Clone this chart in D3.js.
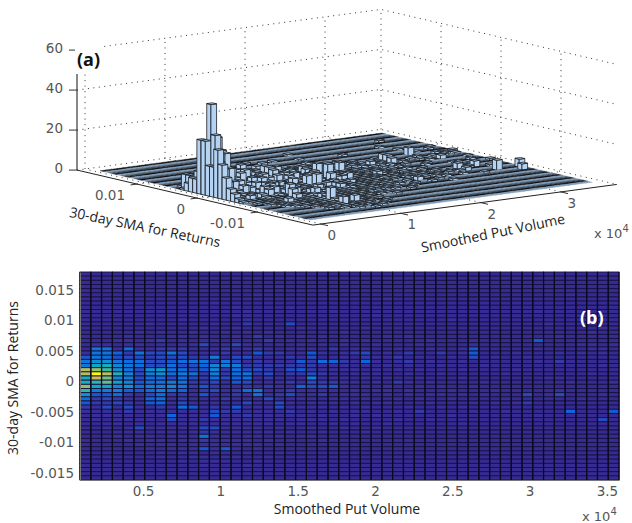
<!DOCTYPE html>
<html>
<head>
<meta charset="utf-8">
<script src="https://cdn.jsdelivr.net/npm/d3@7"></script>
<style>
    html, body { margin: 0; padding: 0; background: #fff; }
    svg { display: block; }
    .tick-label { font-family: "DejaVu Sans", sans-serif; font-size: 13.5px; fill: #555; }
    .title-label { font-family: "Open Sans", sans-serif; font-size: 14px; fill: #222; }
    .panel-label { font-family: "Open Sans", sans-serif; font-size: 18px; font-weight: 700; }
</style>
</head>
<body>
<svg id="chart" width="632" height="523"></svg>
<script>
// Counts per cell. Rows run top to bottom in panel (b), columns left to right
const counts = [
    [0,0,0,0,0,0,0,0,0,0, 0,0,0,0,0,0,0,0,0,0, 0,0,0,0,0,0,0,0,0,0, 0,0,0,0,0,0,0,0,0,0, 0,0,0,0,0,0,0,0,0,0],
    [0,0,0,0,0,0,0,0,0,0, 0,0,0,0,0,0,0,0,0,0, 0,0,0,0,0,0,0,0,0,0, 0,0,0,0,0,0,0,0,0,0, 0,0,0,0,0,0,0,0,0,0],
    [0,0,0,0,0,0,0,0,0,0, 0,0,0,0,0,0,0,0,0,0, 0,0,0,0,0,0,0,0,0,0, 0,0,0,0,0,0,0,0,0,0, 0,0,0,0,0,0,0,0,0,0],
    [0,0,0,0,0,0,0,0,0,0, 0,0,0,0,0,0,0,0,1,0, 0,0,0,0,0,0,0,0,0,0, 0,0,0,0,0,0,0,0,0,0, 0,0,0,0,0,0,0,0,0,0],
    [0,0,0,0,0,0,0,0,0,0, 0,0,0,0,0,0,0,0,0,0, 0,0,0,0,0,0,0,0,0,0, 0,0,0,0,0,0,0,0,0,0, 0,0,0,0,0,0,0,0,0,0],
    [0,0,0,0,0,0,0,0,0,0, 0,0,0,0,0,0,1,0,0,0, 0,0,0,0,0,0,0,0,0,0, 0,0,0,0,0,0,0,0,0,0, 0,0,0,0,0,1,0,0,0,0],
    [0,0,0,0,0,0,0,0,0,0, 0,0,0,0,0,0,0,0,0,0, 0,0,0,0,0,0,0,0,1,0, 0,0,0,0,0,0,0,0,0,0, 0,0,0,0,0,0,0,0,0,0],
    [0,0,0,0,0,0,0,0,0,0, 0,0,1,0,0,0,0,0,0,0, 0,0,0,0,0,0,0,0,0,0, 0,0,0,0,0,0,0,0,0,0, 0,0,0,0,0,0,0,0,0,0],
    [0,0,0,0,0,0,0,0,0,0, 0,0,0,0,1,0,0,0,0,1, 0,0,0,0,0,0,0,0,0,0, 0,0,0,0,0,0,0,0,0,0, 0,0,0,0,0,0,0,0,0,0],
    [0,0,0,0,0,0,0,0,0,0, 0,0,0,0,0,1,0,0,0,0, 0,0,0,1,0,0,0,0,0,0, 0,0,0,0,0,0,0,0,0,0, 0,0,1,0,0,0,0,0,0,0],
    [0,0,0,0,0,0,0,0,0,0, 0,0,0,0,1,1,0,0,0,0, 0,0,0,0,0,0,0,1,0,0, 0,0,0,0,0,0,0,0,0,0, 0,0,0,0,0,0,0,0,0,0],
    [0,0,0,0,0,0,0,0,0,1, 0,0,0,0,0,1,0,0,0,0, 0,0,0,0,0,0,0,0,0,0, 0,0,0,0,1,0,0,0,0,0, 0,0,0,0,0,0,0,0,0,0],
    [0,0,0,0,0,0,1,0,0,0, 0,0,1,0,0,2,0,0,0,3, 0,0,0,0,0,0,0,0,0,0, 0,0,0,0,0,0,0,0,0,0, 0,0,0,1,0,0,0,0,0,0],
    [0,0,0,0,0,0,0,0,0,0, 0,1,0,0,1,0,0,0,0,0, 1,0,0,0,0,0,1,0,0,0, 0,0,0,0,0,0,0,0,0,0, 0,0,0,0,0,0,0,0,1,0],
    [0,0,0,0,0,1,0,1,0,0, 1,0,0,1,0,1,0,1,0,0, 0,0,0,0,1,0,0,0,0,0, 0,0,0,0,0,0,0,0,0,0, 0,0,0,0,0,0,0,1,0,0],
    [0,0,0,0,1,0,0,0,1,1, 0,1,0,0,1,0,2,0,1,0, 1,0,1,0,0,0,0,0,1,0, 1,0,0,0,0,0,0,0,0,0, 0,0,0,0,1,0,0,0,0,0],
    [0,0,0,1,1,0,1,2,0,1, 0,1,1,0,1,0,0,2,0,1, 0,1,0,0,1,0,1,0,0,0, 0,0,1,0,0,0,1,0,0,0, 0,0,4,0,0,0,0,0,0,0],
    [0,1,1,0,1,1,0,1,0,1, 1,3,0,1,3,1,1,0,1,0, 1,0,1,0,1,0,0,1,0,0, 0,1,0,0,0,0,1,0,0,0, 0,0,0,0,0,0,1,1,0,1],
    [0,7,7,1,6,1,1,2,2,2, 1,1,1,2,1,1,2,1,0,1, 1,1,0,2,0,1,1,0,0,1, 0,0,1,0,0,1,4,0,0,0, 0,0,1,0,0,0,0,1,1,0],
    [1,7,7,5,2,7,3,3,7,3, 1,1,1,2,1,1,4,2,2,1, 1,4,1,0,1,2,3,0,1,0, 2,0,0,2,0,1,4,0,0,0, 1,0,0,0,1,0,1,0,1,0],
    [4,7,6,3,3,3,2,3,3,3, 2,2,8,1,3,3,1,1,1,2, 1,3,0,1,1,0,2,1,1,2, 0,1,0,0,1,0,3,0,1,0, 0,1,0,0,0,0,0,0,0,0],
    [7,10,10,7,6,6,3,3,4,6, 7,7,2,7,3,1,2,1,1,1, 4,2,6,5,2,1,5,1,0,1, 2,0,1,0,0,1,0,0,0,0, 0,0,1,0,2,0,0,0,0,0],
    [7,14,15,9,7,6,3,3,6,3, 3,5,9,8,8,2,2,2,2,2, 2,2,1,1,1,0,1,0,1,0, 1,0,0,1,0,0,0,1,0,0, 0,0,0,0,0,0,0,0,1,0],
    [27,24,18,10,7,3,10,12,6,6, 3,4,9,2,6,3,3,2,1,3, 4,2,1,1,1,1,0,1,0,1, 0,1,0,0,0,1,0,0,0,0, 1,0,0,0,0,0,0,0,0,0],
    [27,45,28,16,9,3,8,10,6,8, 7,2,8,2,6,7,2,3,1,2, 2,3,2,1,0,1,1,1,0,0, 1,0,0,1,0,0,0,0,0,1, 0,0,0,0,0,0,0,1,0,0],
    [15,30,22,9,8,3,6,6,3,6, 3,2,6,3,5,6,1,2,1,1, 1,8,1,1,1,0,1,0,1,0, 0,1,0,0,0,1,0,0,0,0, 0,0,0,1,1,0,0,0,0,0],
    [15,17,21,13,9,4,6,7,8,7, 2,2,3,1,4,3,1,1,1,2, 1,3,2,2,1,1,0,1,0,2, 1,0,1,0,0,0,0,1,0,0, 0,0,0,0,0,1,0,0,0,1],
    [24,14,14,9,11,6,8,8,9,7, 2,4,2,1,1,2,1,2,1,1, 5,3,3,4,1,0,1,0,1,0, 0,1,0,1,0,0,1,0,0,0, 0,0,0,0,0,0,0,0,0,0],
    [17,8,8,8,5,4,6,8,6,5, 1,2,3,1,2,6,7,1,1,2, 1,1,1,1,0,1,0,1,1,0, 1,0,0,0,1,0,0,0,1,0, 0,0,0,0,1,0,0,0,0,0],
    [11,4,4,6,2,1,3,6,2,2, 1,4,1,1,2,1,7,1,2,3, 1,1,2,0,1,1,1,0,1,0, 1,0,1,1,0,1,0,1,0,0, 0,3,0,1,3,0,0,0,1,0],
    [6,2,3,2,1,1,5,6,1,2, 1,1,1,2,1,1,1,3,1,1, 1,1,0,1,1,0,1,0,0,1, 0,1,0,0,1,0,0,0,0,1, 0,0,0,0,0,0,1,0,0,0],
    [4,2,2,3,2,1,4,5,1,3, 1,1,1,1,1,3,1,1,3,1, 0,1,1,1,0,1,0,1,1,0, 0,0,1,0,0,0,1,0,1,0, 1,2,0,0,0,0,0,0,0,0],
    [2,1,3,1,3,1,1,2,1,6, 4,1,2,1,4,1,1,1,3,1, 1,1,1,0,1,0,1,0,0,0, 1,0,0,1,0,1,0,0,0,0, 0,0,0,0,0,0,0,0,0,0],
    [1,1,1,1,2,1,1,1,1,1, 1,1,3,2,2,1,1,1,1,2, 0,1,0,1,0,1,1,0,0,1, 0,2,0,0,0,0,1,0,0,1, 0,0,0,0,0,5,0,0,0,4],
    [0,1,1,1,1,0,1,1,5,1, 1,1,4,1,1,2,1,1,1,1, 1,0,1,0,0,1,0,1,0,0, 0,0,0,0,1,0,0,0,0,0, 0,0,1,0,0,0,0,0,0,0],
    [0,1,0,1,1,1,1,0,3,1, 1,2,1,1,1,1,1,1,1,0, 1,1,1,0,1,0,0,0,0,1, 0,0,1,0,0,0,0,0,0,0, 0,0,0,0,0,0,0,0,3,0],
    [0,0,1,1,0,1,0,1,1,1, 1,1,1,1,1,1,1,1,0,1, 1,0,0,1,0,1,0,0,1,0, 0,0,0,0,0,1,0,0,0,0, 0,0,0,0,0,0,0,0,0,0],
    [0,0,1,0,1,3,1,1,1,1, 1,3,3,1,1,1,1,0,1,0, 0,1,0,0,1,0,0,1,0,0, 0,0,0,0,0,0,0,0,0,0, 0,0,0,0,0,0,0,0,0,0],
    [0,0,0,1,1,1,0,1,1,0, 1,2,1,1,1,1,1,1,0,1, 0,0,1,0,0,0,1,0,0,0, 0,0,0,0,0,0,0,0,0,0, 0,0,0,0,0,0,0,0,0,0],
    [0,0,0,1,0,1,1,0,1,1, 1,7,1,1,0,1,1,0,1,0, 1,1,0,0,0,0,0,0,0,0, 0,0,0,0,0,0,0,0,0,0, 0,0,0,0,0,0,0,0,0,0],
    [0,0,0,0,1,0,1,1,0,1, 1,2,1,1,1,1,0,1,0,0, 0,0,1,0,0,0,0,0,0,0, 0,0,0,0,0,0,0,0,0,0, 0,0,0,0,0,0,0,0,0,0],
    [0,0,0,0,0,1,0,1,1,0, 1,1,1,1,1,1,1,0,1,0, 0,0,0,0,0,0,0,0,0,0, 0,0,0,0,0,0,0,0,0,0, 0,0,0,0,0,0,0,0,0,0],
    [0,0,0,0,0,0,1,0,1,1, 1,4,1,4,1,0,1,0,0,0, 0,0,0,0,0,0,0,0,0,0, 0,0,0,0,0,0,0,0,0,0, 0,0,0,0,0,0,0,0,0,0],
    [0,0,0,0,0,0,0,1,0,1, 1,0,1,1,0,1,0,0,1,0, 0,0,0,0,0,0,0,0,0,0, 0,0,0,0,0,0,0,0,0,0, 0,0,0,0,0,0,0,0,0,0],
    [0,0,0,0,0,0,0,1,0,0, 1,1,0,1,1,0,0,1,0,0, 0,0,0,0,0,0,0,0,0,0, 0,0,0,0,0,0,0,0,0,0, 0,0,0,0,0,0,0,0,0,0],
    [0,0,0,0,0,0,0,0,0,1, 0,1,1,1,0,0,1,0,0,0, 0,0,0,0,0,0,0,0,0,0, 0,0,0,0,0,0,0,0,0,0, 0,0,0,0,0,0,0,0,0,0],
    [0,0,0,0,0,0,0,0,0,0, 0,1,0,0,0,1,0,0,0,0, 0,0,0,0,0,0,0,0,0,0, 0,0,0,0,0,0,0,0,0,0, 0,0,0,0,0,0,0,0,0,0],
    [0,0,0,0,0,0,0,0,0,0, 0,0,0,1,0,0,0,0,0,0, 0,0,0,0,0,0,0,0,0,0, 0,0,0,0,0,0,0,0,0,0, 0,0,0,0,0,0,0,0,0,0],
    [0,0,0,0,0,0,0,0,0,0, 0,0,0,0,0,0,0,0,0,0, 0,0,0,0,0,0,0,0,0,0, 0,0,0,0,0,0,0,0,0,0, 0,0,0,0,0,0,0,0,0,0],
    [0,0,0,0,0,0,0,0,0,0, 0,0,0,0,0,0,0,0,0,0, 0,0,0,0,0,0,0,0,0,0, 0,0,0,0,0,0,0,0,0,0, 0,0,0,0,0,0,0,0,0,0]
];
const volumeExtent = [0.092, 3.578];   // x 10^4
const returnExtent = [0.018, -0.0162];
const volumeExtent3d = [0.06, 3.58];
const returnExtent3d = [0.0183, -0.0168];
const maxCount = 45;

// Tick labels
const zTicks3d = [0, 20, 40, 60];
const volumeTicks3d = [0, 1, 2, 3];
const returnTicks3d = [0.01, 0, -0.01];
const volumeTicksHeat = [0.5, 1, 1.5, 2, 2.5, 3, 3.5];
const returnTicksHeat = [0.015, 0.01, 0.005, 0, -0.005, -0.01, -0.015];

// Box limits of the 3D axes
const volumeBox = [-0.1, 3.7];
const returnBox = [0.02, -0.0193];

const svg = d3.select("#chart");
const nRows = counts.length;
const nCols = counts[0].length;

// Cell index -> data value
const colToVolume = d3.scaleLinear().domain([0, nCols]).range(volumeExtent);
const rowToReturn = d3.scaleLinear().domain([0, nRows]).range(returnExtent);
const colToVolume3d = d3.scaleLinear().domain([0, nCols]).range(volumeExtent3d);
const rowToReturn3d = d3.scaleLinear().domain([0, nRows]).range(returnExtent3d);

// Colormap, stays purple for the lowest counts
const parula = d3.scaleLinear()
    .domain([0, 0.03, 0.06, 0.1, 0.2, 0.3, 0.4, 0.5, 0.6, 0.7, 0.85, 1])
    .range(["#362b92", "#3a319c", "#2c46bc", "#0b62e2", "#1485d4", "#06a7c6", "#38b99e", "#7cbf7b", "#b5bd61", "#d9ba56", "#f5d62c", "#f9fb0e"]);

// ---------- Panel (a): fixed oblique view, each data axis has its own screen vector ----------
const originX = 205, originY = 197;
const volPx = d3.scaleLinear().domain([0, 1]).range([0, 80]);
const volPy = d3.scaleLinear().domain([0, 1]).range([0, -10.7]);
const retPx = d3.scaleLinear().domain([0, 0.01]).range([0, -60]);
const retPy = d3.scaleLinear().domain([0, 0.01]).range([0, -14]);
const zPy = d3.scaleLinear().domain([0, 60]).range([0, -120]);

const project = (v, r, z) => [originX + volPx(v) + retPx(r), originY + volPy(v) + retPy(r) + zPy(z)];

const line3d = d3.line();
const a = svg.append("g").attr("class", "panel-a");

// Dotted wall and floor grid
const [vMin, vMax] = volumeBox;
const [rMax, rMin] = returnBox;
const zTop = zTicks3d[zTicks3d.length - 1];
const gridLines = [];
zTicks3d.forEach(z => {
    gridLines.push([project(vMin, rMax, z), project(vMax, rMax, z), project(vMax, rMin, z)]);
});
volumeTicks3d.forEach(v => {
    gridLines.push([project(v, rMin, 0), project(v, rMax, 0), project(v, rMax, zTop)]);
});
returnTicks3d.forEach(r => {
    gridLines.push([project(vMin, r, 0), project(vMax, r, 0), project(vMax, r, zTop)]);
});
gridLines.push([project(vMax, rMax, 0), project(vMax, rMax, zTop)]);
a.selectAll(".grid3d")
    .data(gridLines)
    .join("path")
    .attr("class", "grid3d")
    .attr("d", line3d)
    .attr("fill", "none")
    .attr("stroke", "#333")
    .attr("stroke-width", 1)
    .attr("stroke-dasharray", "1 4.5");

// Bars, painted from the far corner to the near one
const barCells = [];
for (let r = 0; r < nRows; r++) {
    for (let c = nCols - 1; c >= 0; c--) {
        barCells.push({ r, c, n: counts[r][c] });
    }
}
// The empty floor cells alias into black, pale and slate stripes running along the rows
const floorStripes = ["#0c0f14", "#7f9bb8", "#48596a"];
const barFaces = [];
barCells.forEach(d => {
    const v0 = colToVolume3d(d.c), v1 = colToVolume3d(d.c + 1);
    const r0 = rowToReturn3d(d.r), r1 = rowToReturn3d(d.r + 1);
    const top = [project(v0, r0, d.n), project(v1, r0, d.n), project(v1, r1, d.n), project(v0, r1, d.n)];
    if (d.n > 0) {
        barFaces.push({ pts: [project(v0, r1, 0), project(v0, r0, 0), project(v0, r0, d.n), project(v0, r1, d.n)], solid: true });
        barFaces.push({ pts: [project(v0, r1, 0), project(v1, r1, 0), project(v1, r1, d.n), project(v0, r1, d.n)], solid: true });
        barFaces.push({ pts: top, solid: true });
    } else {
        barFaces.push({ pts: top, solid: false, tone: floorStripes[d.r % 3] });
    }
});
a.selectAll(".face")
    .data(barFaces)
    .join("path")
    .attr("class", "face")
    .attr("d", d => line3d(d.pts) + "Z")
    .attr("fill", d => d.solid ? "#b4d3f3" : d.tone)
    .attr("stroke", d => d.solid ? "#1c2024" : d.tone)
    .attr("stroke-width", d => d.solid ? 0.8 : 0.3);

// Box edges along the floor
a.append("path")
    .attr("d", line3d([project(vMin, rMax, 0), project(vMin, rMin, 0), project(vMax, rMin, 0)]))
    .attr("fill", "none")
    .attr("stroke", "#222")
    .attr("stroke-width", 1);

// Volume ticks and labels
a.selectAll(".vol-tick")
    .data(volumeTicks3d)
    .join("path")
    .attr("class", "vol-tick")
    .attr("d", d => line3d([project(d, rMin, 0), project(d, rMin - 0.0012, 0)]))
    .attr("stroke", "#333");
a.selectAll(".vol-label")
    .data(volumeTicks3d)
    .join("text")
    .attr("class", "vol-label tick-label")
    .attr("x", d => project(d, rMin, 0)[0] + 11)
    .attr("y", d => project(d, rMin, 0)[1] + 16)
    .attr("text-anchor", "middle")
    .text(d => d);

// Return ticks and labels
a.selectAll(".ret-tick")
    .data(returnTicks3d)
    .join("path")
    .attr("class", "ret-tick")
    .attr("d", d => line3d([project(vMin, d, 0), project(vMin - 0.08, d, 0)]))
    .attr("stroke", "#333");
a.selectAll(".ret-label")
    .data(returnTicks3d)
    .join("text")
    .attr("class", "ret-label tick-label")
    .attr("x", d => project(vMin, d, 0)[0] - 12)
    .attr("y", d => project(vMin, d, 0)[1] + 16)
    .attr("text-anchor", "end")
    .text(d => d);

// Z axis, the white label patch hides its top part
const zAxisX = project(vMin, rMax, 0)[0];
a.append("path")
    .attr("d", line3d([project(vMin, rMax, 0), project(vMin, rMax, zTop)]))
    .attr("fill", "none")
    .attr("stroke", "#111")
    .attr("stroke-width", 1);
a.selectAll(".z-tick")
    .data(zTicks3d)
    .join("line")
    .attr("class", "z-tick")
    .attr("x1", zAxisX - 8)
    .attr("x2", zAxisX)
    .attr("y1", d => project(vMin, rMax, d)[1])
    .attr("y2", d => project(vMin, rMax, d)[1])
    .attr("stroke", "#333");
a.selectAll(".z-label")
    .data(zTicks3d)
    .join("text")
    .attr("class", "z-label tick-label")
    .attr("x", zAxisX - 14)
    .attr("y", d => project(vMin, rMax, d)[1] + 3)
    .attr("text-anchor", "end")
    .text(d => d);

a.append("rect").attr("x", 75).attr("y", 44).attr("width", 28).attr("height", 30).attr("fill", "#fff");
a.append("text").attr("class", "panel-label").attr("x", 77).attr("y", 66).attr("fill", "#111").text("(a)");

a.append("text")
    .attr("class", "title-label")
    .attr("transform", "translate(144,232) rotate(11.5)")
    .attr("text-anchor", "middle")
    .text("30-day SMA for Returns");
a.append("text")
    .attr("class", "title-label")
    .attr("transform", "translate(494,238) rotate(-11.5)")
    .attr("text-anchor", "middle")
    .text("Smoothed Put Volume");
const expA = a.append("text").attr("class", "tick-label").attr("x", 594).attr("y", 238).style("font-size", "13px");
expA.append("tspan").text("x 10");
expA.append("tspan").attr("dy", -6).style("font-size", "10px").text("4");

// ---------- Panel (b): heat map ----------
const heatLeft = 80, heatRight = 619, heatTop = 272, heatBottom = 480;
const heatX = d3.scaleLinear().domain(volumeExtent).range([heatLeft, heatRight]);
const heatY = d3.scaleLinear().domain(returnExtent).range([heatTop, heatBottom]);

const b = svg.append("g").attr("class", "panel-b");
b.selectAll(".cell")
    .data(barCells)
    .join("rect")
    .attr("class", "cell")
    .attr("x", d => heatX(colToVolume(d.c)))
    .attr("y", d => heatY(rowToReturn(d.r)))
    .attr("width", d => heatX(colToVolume(d.c + 1)) - heatX(colToVolume(d.c)))
    .attr("height", d => heatY(rowToReturn(d.r + 1)) - heatY(rowToReturn(d.r)))
    .attr("fill", d => parula(d.n / maxCount))
    .attr("stroke", "#17113f")
    .attr("stroke-width", 0.9);

b.selectAll(".col-line")
    .data(d3.range(nCols + 1))
    .join("line")
    .attr("class", "col-line")
    .attr("x1", d => heatX(colToVolume(d)))
    .attr("x2", d => heatX(colToVolume(d)))
    .attr("y1", heatTop)
    .attr("y2", heatBottom)
    .attr("stroke", "#0a0a20")
    .attr("stroke-width", 1.3);

const xAxisHeat = d3.axisBottom(heatX).tickValues(volumeTicksHeat).tickSize(0).tickPadding(6).tickFormat(d => d);
const yAxisHeat = d3.axisLeft(heatY).tickValues(returnTicksHeat).tickSize(0).tickPadding(6).tickFormat(d => d);

const xAxisG = b.append("g").attr("transform", `translate(0,${heatBottom})`).call(xAxisHeat);
const yAxisG = b.append("g").attr("transform", `translate(${heatLeft},0)`).call(yAxisHeat);
[xAxisG, yAxisG].forEach(g => {
    g.attr("font-family", null).attr("font-size", null);
    g.select(".domain").attr("stroke", "#777");
    g.selectAll("text").attr("class", "tick-label");
});

b.append("text")
    .attr("class", "title-label")
    .attr("x", 347)
    .attr("y", 514)
    .attr("text-anchor", "middle")
    .text("Smoothed Put Volume");
b.append("text")
    .attr("class", "title-label")
    .attr("transform", "translate(18,378) rotate(-90)")
    .attr("text-anchor", "middle")
    .text("30-day SMA for Returns");
b.append("text").attr("class", "panel-label").attr("x", 580).attr("y", 324).attr("fill", "#fff").text("(b)");
const expB = b.append("text").attr("class", "tick-label").attr("x", 582).attr("y", 521).style("font-size", "13px");
expB.append("tspan").text("x 10");
expB.append("tspan").attr("dy", -6).style("font-size", "10px").text("4");
</script>
</body>
</html>
